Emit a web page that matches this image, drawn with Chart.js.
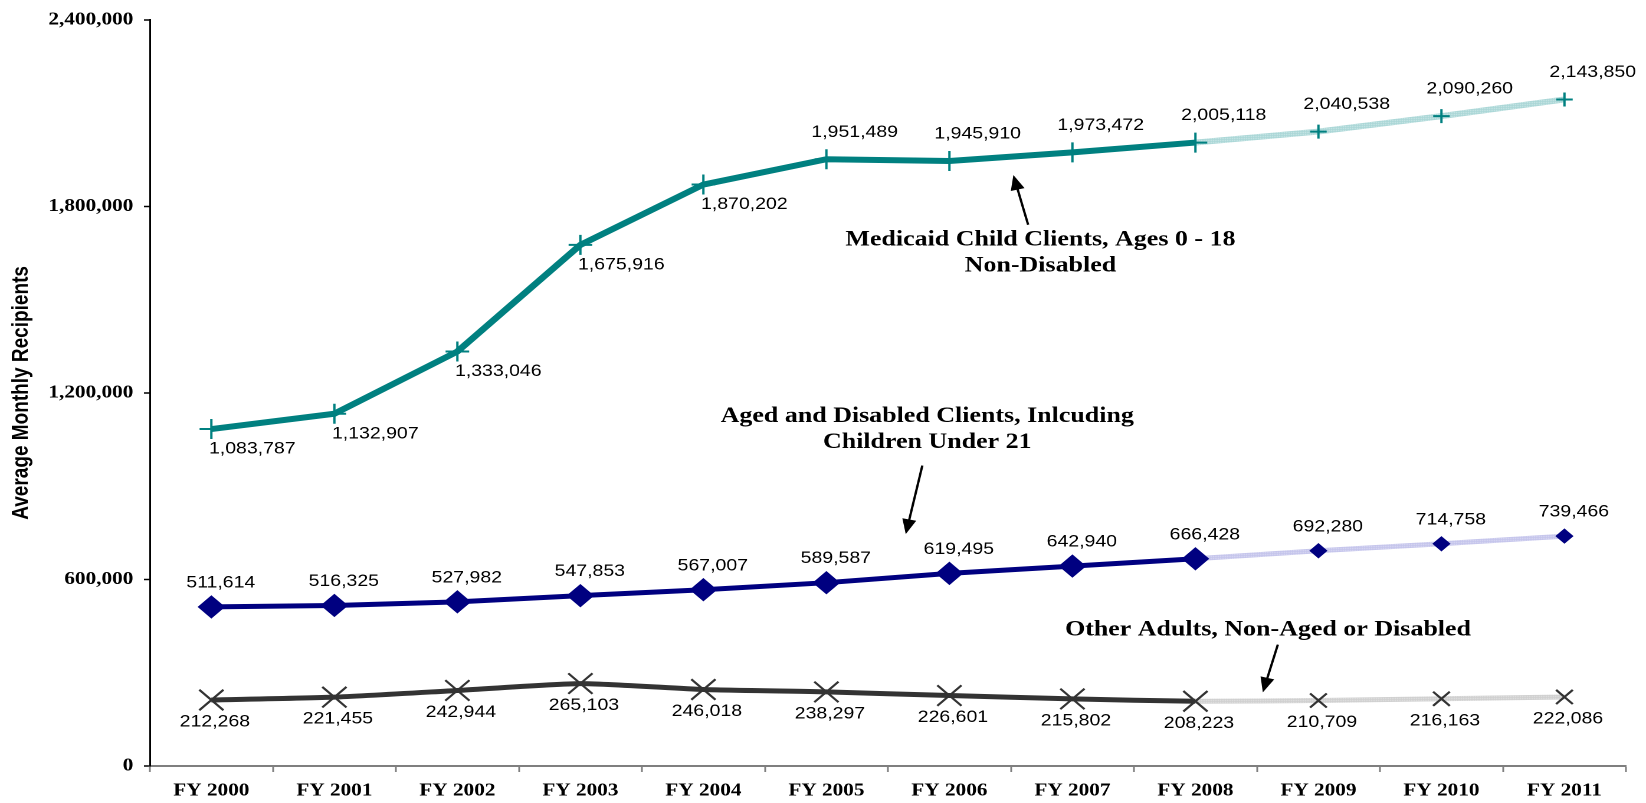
<!DOCTYPE html>
<html>
<head>
<meta charset="utf-8">
<title>Average Monthly Recipients</title>
<script src="https://cdn.jsdelivr.net/npm/chart.js@4.4.1/dist/chart.umd.min.js"></script>
<style>
  html, body { margin: 0; padding: 0; background: #ffffff; overflow: hidden; }
</style>
</head>
<body>
<!-- the original picture is stretched sideways, so the canvas is drawn narrower and widened by its inline style -->
<canvas id="chart" width="1395" height="803" style="display:block;width:1646px;height:803px"></canvas>
<script>
const fiscalYears = ['FY 2000', 'FY 2001', 'FY 2002', 'FY 2003', 'FY 2004', 'FY 2005',
                     'FY 2006', 'FY 2007', 'FY 2008', 'FY 2009', 'FY 2010', 'FY 2011'];
const childClients = [1083787, 1132907, 1333046, 1675916, 1870202, 1951489,
                      1945910, 1973472, 2005118, 2040538, 2090260, 2143850];
const agedDisabled = [511614, 516325, 527982, 547853, 567007, 589587,
                      619495, 642940, 666428, 692280, 714758, 739466];
const otherAdults = [212268, 221455, 242944, 265103, 246018, 238297,
                     226601, 215802, 208223, 210709, 216163, 222086];
const yTicks = [0, 600000, 1200000, 1800000, 2400000];
const lastActual = 8; // FY 2008 is the last actual year, the rest are projections

// callouts: text anchored at [category, value], arrow from -> to in the same units
const callouts = [
    { lines: ['Medicaid Child Clients, Ages 0 - 18', 'Non-Disabled'], at: [6.74, 1673600],
      arrow: [[6.64, 1740800], [6.52, 1900800]] },
    { lines: ['Aged and Disabled Clients, Inlcuding', 'Children Under 21'], at: [5.82, 1107200],
      arrow: [[5.78, 966400], [5.645, 745600]] },
    { lines: ['Other Adults, Non-Aged or Disabled'], at: [8.59, 419200],
      arrow: [[8.67, 390400], [8.548, 236800]] }
];

function fmt(v) {
    return v.toLocaleString('en-US');
}

// textured light stroke used for the projected years
function makeTexture(c1, c2) {
    const p = document.createElement('canvas');
    p.width = 4; p.height = 4;
    const g = p.getContext('2d');
    g.fillStyle = c1; g.fillRect(0, 0, 4, 4);
    g.fillStyle = c2;
    g.fillRect(0, 0, 1, 1); g.fillRect(2, 2, 1, 1); g.fillRect(2, 0, 1, 1); g.fillRect(0, 2, 1, 1);
    return g.createPattern(p, 'repeat');
}

function seriesDataset(label, data, color, projColor, opts) {
    return Object.assign({
        label: label,
        data: data,
        borderColor: color,
        backgroundColor: color,
        pointBorderColor: color,
        pointBackgroundColor: color,
        fill: false,
        segment: {
            borderColor: ctx => ctx.p0DataIndex >= lastActual ? projColor : undefined
        }
    }, opts);
}

const labelPlugin = {
    id: 'valueLabels',
    afterDatasetsDraw(chart) {
        const ctx = chart.ctx;
        const xs = chart.scales.x, ys = chart.scales.y;
        ctx.save();
        ctx.fillStyle = '#000';
        ctx.font = '16.5px "Liberation Sans", Arial, sans-serif';
        ctx.textBaseline = 'middle';

        chart.data.datasets.forEach((ds, di) => {
            const meta = chart.getDatasetMeta(di);
            meta.data.forEach((pt, i) => {
                const v = ds.data[i];
                let x = pt.x, y = pt.y;
                ctx.textAlign = 'center';
                if (di === 0) {
                    if (i < 5) { ctx.textAlign = 'left'; x -= 2; y += 20; }
                    else { x += 24; y -= 27; }
                } else if (di === 1) {
                    x += 8; y -= 24;
                } else {
                    x += 3; y += 22;
                }
                ctx.fillText(fmt(v), x, y);
            });
        });

        // callout text and arrows
        ctx.font = 'bold 22px "Liberation Serif", "Times New Roman", serif';
        ctx.textAlign = 'center';
        ctx.textBaseline = 'alphabetic';
        callouts.forEach(c => {
            const cx = xs.getPixelForValue(c.at[0]);
            const cy = ys.getPixelForValue(c.at[1]);
            c.lines.forEach((t, k) => ctx.fillText(t, cx, cy + k * 26));

            const x1 = xs.getPixelForValue(c.arrow[0][0]), y1 = ys.getPixelForValue(c.arrow[0][1]);
            const x2 = xs.getPixelForValue(c.arrow[1][0]), y2 = ys.getPixelForValue(c.arrow[1][1]);
            const ang = Math.atan2(y2 - y1, x2 - x1);
            const head = 15, half = 6;
            ctx.strokeStyle = '#000';
            ctx.lineWidth = 2;
            ctx.beginPath();
            ctx.moveTo(x1, y1);
            ctx.lineTo(x2 - Math.cos(ang) * head * 0.8, y2 - Math.sin(ang) * head * 0.8);
            ctx.stroke();
            ctx.beginPath();
            ctx.moveTo(x2, y2);
            ctx.lineTo(x2 - Math.cos(ang) * head - Math.sin(ang) * half, y2 - Math.sin(ang) * head + Math.cos(ang) * half);
            ctx.lineTo(x2 - Math.cos(ang) * head + Math.sin(ang) * half, y2 - Math.sin(ang) * head - Math.cos(ang) * half);
            ctx.closePath();
            ctx.fillStyle = '#000';
            ctx.fill();
        });
        ctx.restore();
    }
};

const bigSmall = (big, small) => ctx => ctx.dataIndex > lastActual ? small : big;

const datasets = [
    seriesDataset('Medicaid Child Clients, Ages 0 - 18 Non-Disabled', childClients, '#008080',
        makeTexture('#a9d6d6', '#d8eeee'), {
            borderWidth: 6,
            pointStyle: 'cross',
            pointRadius: bigSmall(10, 7),
            pointBorderWidth: 2,
            tension: 0
        }),
    seriesDataset('Aged and Disabled Clients, Including Children Under 21', agedDisabled, '#000080',
        makeTexture('#c4c4ec', '#e2e2f6'), {
            borderWidth: 5,
            pointStyle: 'rectRot',
            pointRadius: bigSmall(11, 7),
            pointBorderWidth: 1,
            tension: 0
        }),
    seriesDataset('Other Adults, Non-Aged or Disabled', otherAdults, '#333333',
        makeTexture('#cfcfcf', '#e8e8e8'), {
            borderWidth: 5,
            pointStyle: 'crossRot',
            pointRadius: bigSmall(14.5, 10),
            pointBorderWidth: 2,
            tension: 0.2
        })
];

new Chart(document.getElementById('chart'), {
    type: 'line',
    data: { labels: fiscalYears, datasets: datasets },
    options: {
        responsive: false,
        devicePixelRatio: 2,
        animation: false,
        layout: { padding: { top: 16, right: 17, left: 0, bottom: 0 } },
        plugins: {
            legend: { display: false },
            tooltip: { enabled: false }
        },
        scales: {
            x: {
                offset: true,
                afterFit: s => { s.height = 37; },
                grid: {
                    offset: true,
                    drawOnChartArea: false,
                    drawTicks: true,
                    tickLength: 6,
                    tickColor: '#7f7f7f',
                    tickWidth: 1.5
                },
                border: { color: '#7f7f7f', width: 2 },
                ticks: {
                    color: '#000',
                    padding: 8,
                    maxRotation: 0,
                    font: { family: '"Liberation Serif", "Times New Roman", serif', size: 18, weight: 'bold' }
                }
            },
            y: {
                min: 0,
                max: 2400000,
                afterFit: s => { s.width = 127; },
                afterBuildTicks: s => { s.ticks = yTicks.map(v => ({ value: v })); },
                grid: {
                    drawOnChartArea: false,
                    drawTicks: true,
                    tickLength: 5,
                    tickColor: '#000',
                    tickWidth: 1.5
                },
                border: { color: '#000', width: 1.5 },
                ticks: {
                    color: '#000',
                    padding: 9,
                    callback: v => fmt(v),
                    font: { family: '"Liberation Serif", "Times New Roman", serif', size: 18, weight: 'bold' }
                },
                title: {
                    display: true,
                    text: 'Average Monthly Recipients',
                    color: '#000',
                    padding: 7,
                    font: { family: '"Liberation Sans", Arial, sans-serif', size: 19, weight: 'bold' }
                }
            }
        }
    },
    plugins: [labelPlugin]
});
</script>
</body>
</html>
